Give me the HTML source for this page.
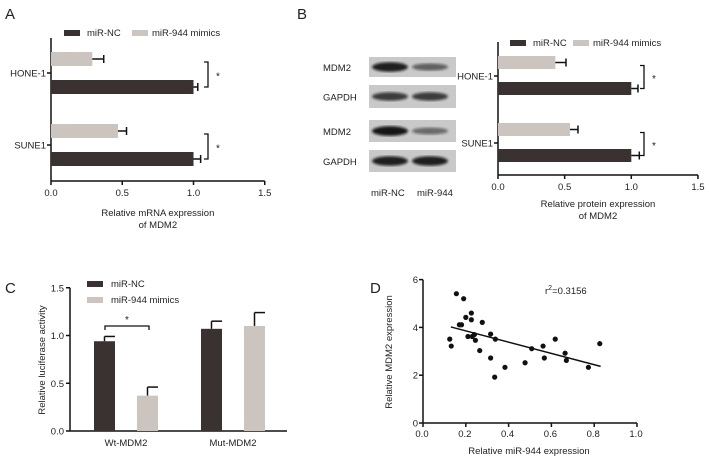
<!DOCTYPE html>
<html><head><meta charset="utf-8"><style>
html,body{margin:0;padding:0;background:#fff;}
svg{display:block;font-family:"Liberation Sans",Arial,sans-serif;}
text{fill:#222;}
</style></head><body>
<svg id="fig" width="709" height="460" viewBox="0 0 709 460">
<defs><filter id="blur"><feGaussianBlur stdDeviation="1.3"/></filter></defs>
<g id="pA"></g>
<g id="pB"></g>
<g id="pC"></g>
<g id="pD"></g>
</svg>
<script>
// ---- data ----
const hbarCats = ["HONE-1","SUNE1"];
const aNC = [1.0, 1.0];
const aNCerr = [0.03, 0.05];
const aMim = [0.29, 0.47];
const aMimErr = [0.08, 0.06];
const bNC = [1.0, 1.0];
const bNCerr = [0.05, 0.06];
const bMim = [0.43, 0.54];
const bMimErr = [0.08, 0.06];
const hTicks = [0, 0.5, 1.0, 1.5];
const hTickLabels = ["0.0","0.5","1.0","1.5"];
const cCats = ["Wt-MDM2","Mut-MDM2"];
const cNC = [0.94, 1.07];
const cNCerr = [0.05, 0.08];
const cMim = [0.37, 1.10];
const cMimErr = [0.09, 0.14];
const cTicks = [0, 0.5, 1.0, 1.5];
const cTickLabels = ["0.0","0.5","1.0","1.5"];
const dX = [0.125,0.132,0.156,0.19,0.17,0.18,0.2,0.226,0.226,0.21,0.23,0.24,0.245,0.277,0.265,0.316,0.316,0.338,0.335,0.383,0.477,0.508,0.561,0.567,0.618,0.664,0.67,0.773,0.826];
const dY = [3.51,3.22,5.41,5.2,4.11,4.11,4.42,4.6,4.32,3.62,3.62,3.7,3.46,4.21,3.03,3.72,2.72,3.51,1.92,2.33,2.52,3.11,3.22,2.72,3.51,2.92,2.62,2.33,3.32];
const dFitX = [0.13, 0.83];
const dFitY = [4.02, 2.37];
const dXTicks = [0,0.2,0.4,0.6,0.8,1.0];
const dXTickLabels = ["0.0","0.2","0.4","0.6","0.8","1.0"];
const dYTicks = [0,2,4,6];
const dYTickLabels = ["0","2","4","6"];

const NS="http://www.w3.org/2000/svg";
const DARK="#3a3131", LIGHT="#cbc4bf";
function mk(parent,tag,attrs,txt){const e=document.createElementNS(NS,tag);for(const k in attrs)e.setAttribute(k,attrs[k]);if(txt!==undefined)e.textContent=txt;parent.appendChild(e);return e;}
function line(p,x1,y1,x2,y2,w){return mk(p,"line",{x1,y1,x2,y2,stroke:"#111","stroke-width":w||1.5});}
function lbl(p,letter,x,y){const t=mk(p,"text",{x,y,"font-size":15},letter);

}

// ---- horizontal bar panel ----
function hpanel(g,o,nc,ncE,mi,miE,title1,title2){
  const sx=v=>o.x0+v*o.unit;
  let r=mk(g,"rect",{x:o.legX,y:o.legY,width:16,height:6,fill:DARK});
  
  
  let t=mk(g,"text",{x:o.legX+23,y:o.legY+6,"font-size":9.5},"miR-NC");
  
  
  r=mk(g,"rect",{x:o.legX2,y:o.legY,width:16,height:6,fill:LIGHT});
  
  
  t=mk(g,"text",{x:o.legX2+20,y:o.legY+6,"font-size":9.5},"miR-944 mimics");
  
  
  line(g,o.x0,o.top,o.x0,o.bot);
  line(g,o.x0,o.bot,sx(1.5),o.bot);
  hTicks.forEach((v,i)=>{line(g,sx(v),o.bot,sx(v),o.bot+4);
    const tt=mk(g,"text",{x:sx(v),y:o.bot+15,"font-size":9.5,"text-anchor":"middle"},hTickLabels[i]);
    
    });
  hbarCats.forEach((c,i)=>{
    const cy=o.catY[i];
    line(g,o.x0-4,cy,o.x0,cy);
    const ct=mk(g,"text",{x:o.x0-5,y:cy+3.5,"font-size":9.5,"text-anchor":"end"},c);
    
    
    const gy=cy-o.gOff, dy=cy+o.dOff;
    let b=mk(g,"rect",{x:o.x0,y:gy,width:sx(mi[i])-o.x0,height:o.bh,fill:LIGHT});
    
    
    line(g,sx(mi[i]),gy+o.bh/2,sx(mi[i]+miE[i]),gy+o.bh/2);
    line(g,sx(mi[i]+miE[i]),gy+o.bh/2-4,sx(mi[i]+miE[i]),gy+o.bh/2+4);
    b=mk(g,"rect",{x:o.x0,y:dy,width:sx(nc[i])-o.x0,height:o.bh,fill:DARK});
    
    
    line(g,sx(nc[i]),dy+o.bh/2,sx(nc[i]+ncE[i]),dy+o.bh/2);
    line(g,sx(nc[i]+ncE[i]),dy+o.bh/2-4,sx(nc[i]+ncE[i]),dy+o.bh/2+4);
    const bx=o.brX, y1=gy+o.bh/2+3, y2=dy+o.bh/2;
    const br=mk(g,"path",{d:`M${bx-4} ${y1} H${bx} V${y2} H${bx-4}`,fill:"none",stroke:"#111","stroke-width":1.3});
    
    
    const st=mk(g,"text",{x:bx+10,y:(y1+y2)/2+5,"font-size":10,"text-anchor":"middle"},"*");
    
    
  });
  const xc=sx(0.75);
  let a=mk(g,"text",{x:xc,y:o.titleY,"font-size":9.5,"text-anchor":"middle"},title1);
  
  
  a=mk(g,"text",{x:xc,y:o.titleY+12,"font-size":9.5,"text-anchor":"middle"},title2);
  
  
}
const gA=document.getElementById("pA");
lbl(gA,"A",5,19);
hpanel(gA,{x0:51,unit:142.5,top:38,bot:181,catY:[73,145],gOff:21,dOff:7,bh:14,brX:208,legX:64,legY:30,legX2:132,titleY:216},aNC,aNCerr,aMim,aMimErr,"Relative mRNA expression","of MDM2");
const gB=document.getElementById("pB");
lbl(gB,"B",297,19);
hpanel(gB,{x0:498,unit:133.3,top:42,bot:175,catY:[76,143],gOff:20,dOff:6,bh:13,brX:644,legX:510,legY:40,legX2:573,titleY:207},bNC,bNCerr,bMim,bMimErr,"Relative protein expression","of MDM2");
const blotRows=[{y:57,h:20,name:"MDM2",a:[0.9,0.55]},{y:85,h:23,name:"GAPDH",a:[0.75,0.75]},{y:120,h:22,name:"MDM2",a:[0.95,0.5]},{y:150,h:22,name:"GAPDH",a:[0.9,0.9]}];
blotRows.forEach(r=>{
  const bg=mk(gB,"rect",{x:369,y:r.y,width:87,height:r.h,fill:"#c9c9c9"});
  
  
  [390,430].forEach((cx,j)=>{
    const e=mk(gB,"ellipse",{cx,cy:r.y+r.h/2,rx:18,ry:2+3*r.a[j],fill:"#111",opacity:r.a[j],filter:"url(#blur)"});
    
    
  });
  const t=mk(gB,"text",{x:323,y:r.y+r.h/2+4,"font-size":9.5},r.name);
  
  
});
[["miR-NC",378],["miR-944",424]].forEach(([s,x])=>{
  const t=mk(gB,"text",{x:x-7,y:196,"font-size":9.5},s);
  
  
});

// ---- panel C ----
const gC=document.getElementById("pC");
lbl(gC,"C",5,293);
(function(){
  const x0=70,y0=431,unit=95.5,xEnd=287;
  const sy=v=>y0-v*unit;
  line(gC,x0,sy(1.5),x0,y0);line(gC,x0,y0,xEnd,y0);
  cTicks.forEach((v,i)=>{line(gC,x0-4,sy(v),x0,sy(v));
    const t=mk(gC,"text",{x:x0-6,y:sy(v)+3.5,"font-size":9.5,"text-anchor":"end"},cTickLabels[i]);
    
    });
  const catCenters=[126,233];
  cCats.forEach((c,i)=>{
    const cc=catCenters[i];
    const t=mk(gC,"text",{x:cc,y:446,"font-size":9.5,"text-anchor":"middle"},c);
    
    
    [[cNC,cNCerr,DARK,-32,'bar-mir-nc'],[cMim,cMimErr,LIGHT,11,'bar-mir-944']].forEach(([v,e,col,off,nm])=>{
      const bx=cc+off,w=21;
      line(gC,bx+w/2,sy(v[i]),bx+w/2,sy(v[i]+e[i]));
      line(gC,bx+w/2,sy(v[i]+e[i]),bx+w,sy(v[i]+e[i]));
      const b=mk(gC,"rect",{x:bx,y:sy(v[i]),width:w,height:y0-sy(v[i]),fill:col});
      
      
    });
  });
  const br=mk(gC,"path",{d:`M105 330 V326 H149 V330`,fill:"none",stroke:"#111","stroke-width":1.3});
  
  
  let t=mk(gC,"text",{x:127,y:323,"font-size":10,"text-anchor":"middle"},"*");
  
  
  let r=mk(gC,"rect",{x:87,y:281,width:16,height:6,fill:DARK});
  
  
  t=mk(gC,"text",{x:111,y:287,"font-size":9.5},"miR-NC");
  
  
  r=mk(gC,"rect",{x:87,y:297,width:16,height:6,fill:LIGHT});
  
  
  t=mk(gC,"text",{x:111,y:303,"font-size":9.5},"miR-944 mimics");
  
  
  t=mk(gC,"text",{x:0,y:0,"font-size":9.5,"text-anchor":"middle",transform:"translate(45,360) rotate(-90)"},"Relative luciferase activity");
  
  
})();

// ---- panel D ----
const gD=document.getElementById("pD");
lbl(gD,"D",370,293);
(function(){
  const x0=423,y0=423,ux=214,uy=23.9;
  const sx=v=>x0+v*ux, sy=v=>y0-v*uy;
  line(gD,x0,sy(6),x0,y0);line(gD,x0,y0,sx(1),y0);
  dXTicks.forEach((v,i)=>{line(gD,sx(v),y0,sx(v),y0+4);
    const t=mk(gD,"text",{x:sx(v)-1,y:y0+14,"font-size":9.5,"text-anchor":"middle"},dXTickLabels[i]);
    
    });
  dYTicks.forEach((v,i)=>{line(gD,x0-4,sy(v),x0,sy(v));
    const t=mk(gD,"text",{x:x0-5,y:sy(v)+3.5,"font-size":9.5,"text-anchor":"end"},dYTickLabels[i]);
    
    });
  dX.forEach((x,i)=>{
    const c=mk(gD,"circle",{cx:sx(x),cy:sy(dY[i]),r:2.6,fill:"#111"});
    
    
  });
  const fl=mk(gD,"line",{x1:sx(dFitX[0]),y1:sy(dFitY[0]),x2:sx(dFitX[1]),y2:sy(dFitY[1]),stroke:"#111","stroke-width":1.5});
  
  
  let t=mk(gD,"text",{x:545,y:294,"font-size":9.5});
  t.innerHTML='r<tspan dy="-4" font-size="7">2</tspan><tspan dy="4">=0.3156</tspan>';
  
  
  t=mk(gD,"text",{x:529,y:454,"font-size":9.5,"text-anchor":"middle"},"Relative miR-944 expression");
  
  
  t=mk(gD,"text",{x:0,y:0,"font-size":9.5,"text-anchor":"middle",transform:"translate(392,352) rotate(-90)"},"Relative MDM2 expression");
  
  
})();
</script>
</body></html>
